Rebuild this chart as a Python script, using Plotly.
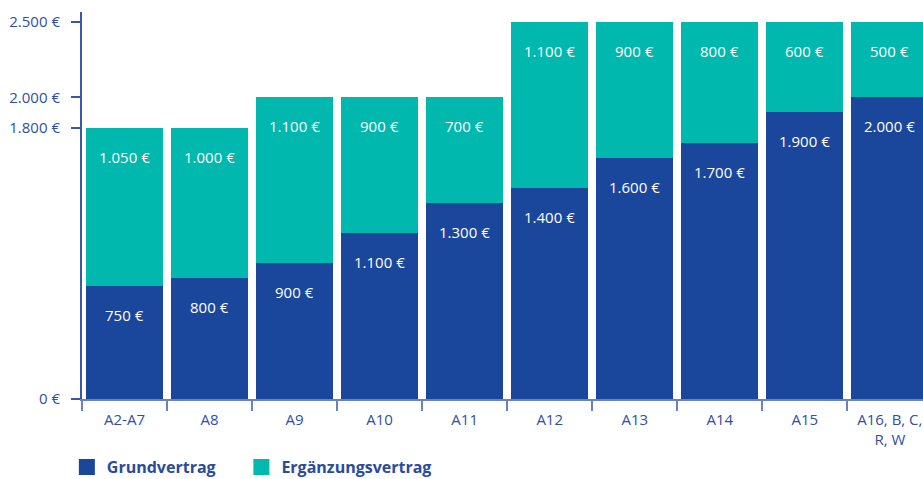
import plotly.graph_objects as go

categories = ["A2-A7", "A8", "A9", "A10", "A11", "A12", "A13", "A14", "A15", "A16, B, C,<br>R, W"]
grundvertrag = [750, 800, 900, 1100, 1300, 1400, 1600, 1700, 1900, 2000]
ergaenzung = [1050, 1000, 1100, 900, 700, 1100, 900, 800, 600, 500]
y_tickvals = [0, 1800, 2000, 2500]
y_ticktext = ["0 €", "1.800 €", "2.000 €", "2.500 €"]
legend_names = ["Grundvertrag", "Ergänzungsvertrag"]

BLUE = "#1a469c"
TEAL = "#00b8ae"
TXT = "#2f4f9f"
FONT = "Open Sans"


def eur(v):
    return f"{v:,}".replace(",", ".") + " €"


fig = go.Figure()
fig.add_trace(go.Bar(x=categories, y=grundvertrag, marker=dict(color=BLUE, line=dict(width=0)),
                     name=legend_names[0], showlegend=False, hoverinfo="skip"))
fig.add_trace(go.Bar(x=categories, y=ergaenzung, marker=dict(color=TEAL, line=dict(width=0)),
                     name=legend_names[1], showlegend=False, hoverinfo="skip"))

# legend entries with larger square symbols
fig.add_trace(go.Scatter(x=[None], y=[None], mode="markers", name=legend_names[0] + "\u00a0" * 5,
                         marker=dict(symbol="square", size=16, color=BLUE)))
fig.add_trace(go.Scatter(x=[None], y=[None], mode="markers", name=legend_names[1],
                         marker=dict(symbol="square", size=16, color=TEAL)))

annotations = []
for c, g, e in zip(categories, grundvertrag, ergaenzung):
    annotations.append(dict(x=c, y=g, yshift=-29, text=eur(g), showarrow=False,
                            font=dict(family=FONT, size=15, color="white"), yanchor="middle"))
    annotations.append(dict(x=c, y=g + e, yshift=-29, text=eur(e), showarrow=False,
                            font=dict(family=FONT, size=15, color="white"), yanchor="middle"))

fig.update_layout(
    barmode="stack",
    bargap=0.094,
    width=923, height=479,
    margin=dict(l=82, r=0, t=12, b=80, autoexpand=False),
    paper_bgcolor="white", plot_bgcolor="white",
    font=dict(family=FONT, color=TXT),
    annotations=annotations,
    showlegend=True,
    legend=dict(orientation="h", x=-0.018, xanchor="left", y=-0.132, yanchor="top",
                traceorder="normal",
                font=dict(family=FONT, size=16, color="#2a4a9c", weight="bold"),
                itemsizing="trace", bgcolor="rgba(0,0,0,0)"),
    xaxis=dict(range=[-0.5, 9.39], showgrid=False, showline=True, linecolor="#6a82c0", linewidth=2,
               ticks="outside", tickson="boundaries", ticklen=10, tickwidth=2, tickcolor="#6a82c0",
               ticklabelstandoff=6, automargin=False,
               tickfont=dict(family=FONT, size=15, color=TXT), zeroline=False, fixedrange=True),
    yaxis=dict(range=[0, 2566], showgrid=False, showline=True, linecolor="#3a58a8", linewidth=2,
               tickvals=y_tickvals, ticktext=y_ticktext, ticks="outside", ticklen=9, tickwidth=2,
               tickcolor="#3a58a8", ticklabelstandoff=8, automargin=False,
               tickfont=dict(family=FONT, size=15, color=TXT), zeroline=False, fixedrange=True),
)

fig.write_html("out.html", config={"displayModeBar": False},
               post_script="document.body.style.margin='0';document.body.style.overflow='hidden';")
